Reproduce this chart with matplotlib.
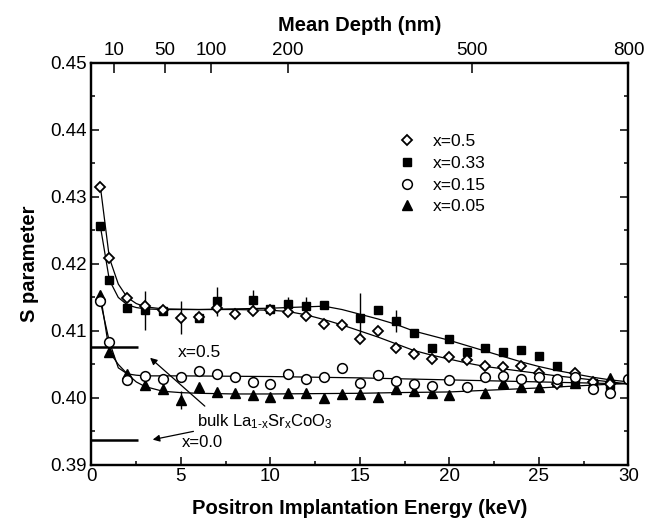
import matplotlib
matplotlib.use("Agg")
import matplotlib.pyplot as plt
import numpy as np

plt.rcParams['font.family'] = ['Liberation Sans', 'DejaVu Sans']
plt.rcParams['mathtext.fontset'] = 'custom'
plt.rcParams['mathtext.rm'] = 'Liberation Sans'
plt.rcParams['mathtext.it'] = 'Liberation Sans'
plt.rcParams['mathtext.default'] = 'regular'

# ---- measured points (energy keV, S parameter, error) ----
E_d = [0.5, 1, 2, 3, 4, 5, 6, 7, 8, 9, 10, 11, 12, 13, 14, 15, 16, 17, 18, 19,
       20, 21, 22, 23, 24, 25, 26, 27, 28, 29]
S_d = [0.4315, 0.4209, 0.4149, 0.4137, 0.4131, 0.4120, 0.4121, 0.4135, 0.4126, 0.4130,
       0.4132, 0.4128, 0.4122, 0.4110, 0.4109, 0.4088, 0.4100, 0.4075, 0.4066, 0.4058,
       0.4061, 0.4056, 0.4048, 0.4046, 0.4048, 0.4037, 0.4021, 0.4038, 0.4024, 0.4021]
err_d = [0, 0, 0, 0, 0, 0.0025, 0, 0, 0, 0, 0, 0, 0, 0, 0, 0, 0, 0, 0, 0,
         0, 0, 0, 0, 0, 0, 0, 0, 0, 0]

E_s = [0.5, 1, 2, 3, 4, 6, 7, 9, 10, 11, 12, 13, 15, 16, 17, 18, 19, 20, 21, 22,
       23, 24, 25, 26, 27, 28, 29]
S_s = [0.4256, 0.4176, 0.4135, 0.4131, 0.4130, 0.4120, 0.4144, 0.4146, 0.4133, 0.4140,
       0.4137, 0.4139, 0.4120, 0.4131, 0.4115, 0.4097, 0.4074, 0.4088, 0.4068, 0.4075,
       0.4068, 0.4072, 0.4063, 0.4047, 0.4022, 0.4023, 0.4019]
err_s = [0, 0, 0, 0.0029, 0, 0, 0.0022, 0.0015, 0, 0.0011, 0.0014, 0, 0.0036, 0, 0.0016, 0, 0, 0, 0, 0,
         0, 0, 0, 0, 0, 0, 0]

E_c = [0.5, 1, 2, 3, 4, 5, 6, 7, 8, 9, 10, 11, 12, 13, 14, 15, 16, 17, 18, 19,
       20, 21, 22, 23, 24, 25, 26, 27, 28, 29, 30]
S_c = [0.4144, 0.4084, 0.4027, 0.4033, 0.4029, 0.4032, 0.4041, 0.4036, 0.4032, 0.4024,
       0.4021, 0.4036, 0.4029, 0.4031, 0.4045, 0.4023, 0.4035, 0.4026, 0.4021, 0.4018,
       0.4027, 0.4016, 0.4031, 0.4033, 0.4028, 0.4032, 0.4028, 0.4032, 0.4013, 0.4007,
       0.4028]

E_t = [0.5, 1, 2, 3, 4, 5, 6, 7, 8, 9, 10, 11, 12, 13, 14, 15, 16, 17, 18, 19,
       20, 22, 23, 24, 25, 26, 27, 28, 29]
S_t = [0.4154, 0.4069, 0.4036, 0.4019, 0.4013, 0.3997, 0.4017, 0.4009, 0.4008, 0.4004,
       0.4002, 0.4007, 0.4007, 0.4000, 0.4006, 0.4006, 0.4002, 0.4013, 0.4011, 0.4007,
       0.4005, 0.4008, 0.4023, 0.4017, 0.4017, 0.4026, 0.4022, 0.4022, 0.4030]
err_t = [0, 0, 0, 0, 0, 0.0014, 0, 0, 0, 0, 0, 0, 0, 0, 0, 0, 0, 0, 0, 0,
         0, 0, 0, 0, 0, 0, 0, 0, 0]

# ---- fitted curves (knots) ----
fitE_d = [0.5, 1, 1.5, 2, 2.5, 3, 4, 6, 8, 10, 11, 12, 13, 14, 15, 16, 17, 18, 19,
          20, 21, 22, 24, 26, 28, 30]
fitS_d = [0.4315, 0.4209, 0.4170, 0.4150, 0.4141, 0.4136, 0.4133, 0.4132, 0.4132, 0.4131,
          0.4129, 0.4124, 0.4117, 0.4109, 0.4100, 0.4091, 0.4081, 0.4071, 0.4064,
          0.4058, 0.4052, 0.4047, 0.4040, 0.4033, 0.4027, 0.4021]
fitE_s = [0.5, 1, 1.5, 2, 2.5, 3, 4, 6, 8, 10, 12, 13, 14, 15, 16, 17, 18, 19, 20,
          21, 22, 23, 24, 25, 26, 27, 28, 29, 30]
fitS_s = [0.4256, 0.4176, 0.4150, 0.4139, 0.4135, 0.4133, 0.4132, 0.4132, 0.4133, 0.4134,
          0.4136, 0.4137, 0.4132, 0.4125, 0.4118, 0.4110, 0.4100, 0.4093, 0.4086,
          0.4078, 0.4070, 0.4062, 0.4054, 0.4047, 0.4041, 0.4036, 0.4031, 0.4027, 0.4024]
fitE_c = [0.5, 1, 1.5, 2, 2.5, 3, 5, 10, 15, 20, 25, 30]
fitS_c = [0.4144, 0.4084, 0.4045, 0.4036, 0.4034, 0.4033, 0.4033, 0.4032, 0.4030,
          0.4027, 0.4024, 0.4021]
fitE_t = [0.5, 1, 1.5, 2, 2.5, 3, 4, 5, 6, 8, 10, 15, 17, 20, 25, 30]
fitS_t = [0.4154, 0.4069, 0.4050, 0.4036, 0.4024, 0.4017, 0.4010, 0.4008, 0.4007,
          0.4006, 0.4006, 0.4007, 0.4008, 0.4009, 0.4015, 0.4022]

# bulk reference values (x=0.5 and x=0.0)
bulk_S = [0.4076, 0.3937]
bulk_Emax = 2.6

# top axis: mean depth labels and their energies
depth_labels = ['10', '50', '100', '200', '500', '800']
depth_E = [1.27, 4.11, 6.68, 10.99, 21.24, 30.0]

fig = plt.figure(figsize=(6.58, 5.29), dpi=100)
ax = fig.add_axes([0.139, 0.121, 0.816, 0.760])

lw_fit = 0.9
for fe, fs in [(fitE_d, fitS_d), (fitE_s, fitS_s), (fitE_c, fitS_c), (fitE_t, fitS_t)]:
    ax.plot(fe, fs, color='black', lw=lw_fit, zorder=2)

# error bars (drawn separately so the legend shows markers only)
for e, s, err in [(E_s, S_s, err_s), (E_d, S_d, err_d), (E_t, S_t, err_t)]:
    ax.errorbar(e, s, yerr=err, fmt='none', ecolor='black', elinewidth=1, capsize=0, zorder=2.5)

ax.plot(E_s, S_s, 's', ms=6, color='black', label='x=0.33', zorder=3)
ax.plot(E_d, S_d, 'D', ms=5.3, color='black', mfc='white', mew=1.3, label='x=0.5', zorder=4)
ax.plot(E_c, S_c, 'o', ms=7, color='black', mfc='white', mew=1.1, label='x=0.15', zorder=4)
ax.plot(E_t, S_t, '^', ms=7, color='black', label='x=0.05', zorder=3)

ax.hlines(bulk_S, 0, bulk_Emax, color='black', lw=1.8)

ax.text(4.85, 0.4068, 'x=0.5', fontsize=12.5, va='center', ha='left')
ax.annotate('', xy=(3.16, 0.40627), xytext=(6.45, 0.39851),
            arrowprops=dict(arrowstyle='-|>', color='black', lw=0.9, mutation_scale=10))
ax.text(5.9, 0.3964, r'bulk La$_{\text{1-x}}$Sr$_{\text{x}}$CoO$_{\text{3}}$', fontsize=12,
        va='center', ha='left')
ax.text(5.05, 0.3933, 'x=0.0', fontsize=12, va='center', ha='left')
ax.annotate('', xy=(3.27, 0.3937), xytext=(5.85, 0.3951),
            arrowprops=dict(arrowstyle='-|>', color='black', lw=0.9, mutation_scale=10))

ax.set_xlim(0, 30)
ax.set_ylim(0.39, 0.45)
ax.set_xticks([0, 5, 10, 15, 20, 25, 30])
ax.set_xticks(np.arange(2.5, 30, 5), minor=True)
ax.set_yticks([0.39, 0.40, 0.41, 0.42, 0.43, 0.44, 0.45])
ax.set_yticklabels(['0.39', '0.40', '0.41', '0.42', '0.43', '0.44', '0.45'])
ax.set_yticks(np.arange(0.395, 0.45, 0.01), minor=True)
ax.tick_params(which='both', direction='in', right=True, top=False, width=1.1,
               labelsize=13.5)
ax.tick_params(which='major', length=6)
ax.tick_params(which='minor', length=3)
ax.tick_params(axis='x', pad=2)
for sp in ax.spines.values():
    sp.set_linewidth(1.6)

ax.set_xlabel('Positron Implantation Energy (keV)', fontsize=14.5, fontweight='bold', labelpad=10)
ax.set_ylabel('S parameter', fontsize=14.5, fontweight='bold', labelpad=8)

top = ax.twiny()
top.set_xlim(ax.get_xlim())
top.set_xticks(depth_E)
top.set_xticklabels(depth_labels)
top.tick_params(direction='in', length=7, width=1.1, labelsize=13.5, pad=3)
top.set_xlabel('Mean Depth (nm)', fontsize=14.5, fontweight='bold', labelpad=8)
for sp in top.spines.values():
    sp.set_linewidth(1.6)

h, l = ax.get_legend_handles_labels()
order = [l.index(k) for k in ['x=0.5', 'x=0.33', 'x=0.15', 'x=0.05']]
ax.legend([h[i] for i in order], [l[i] for i in order], loc='upper left',
          bbox_to_anchor=(0.555, 0.845), frameon=False, fontsize=12.5,
          handlelength=1.0, handletextpad=1.0, labelspacing=0.38, borderpad=0,
          numpoints=1)

fig.savefig('out.png', dpi=100)
